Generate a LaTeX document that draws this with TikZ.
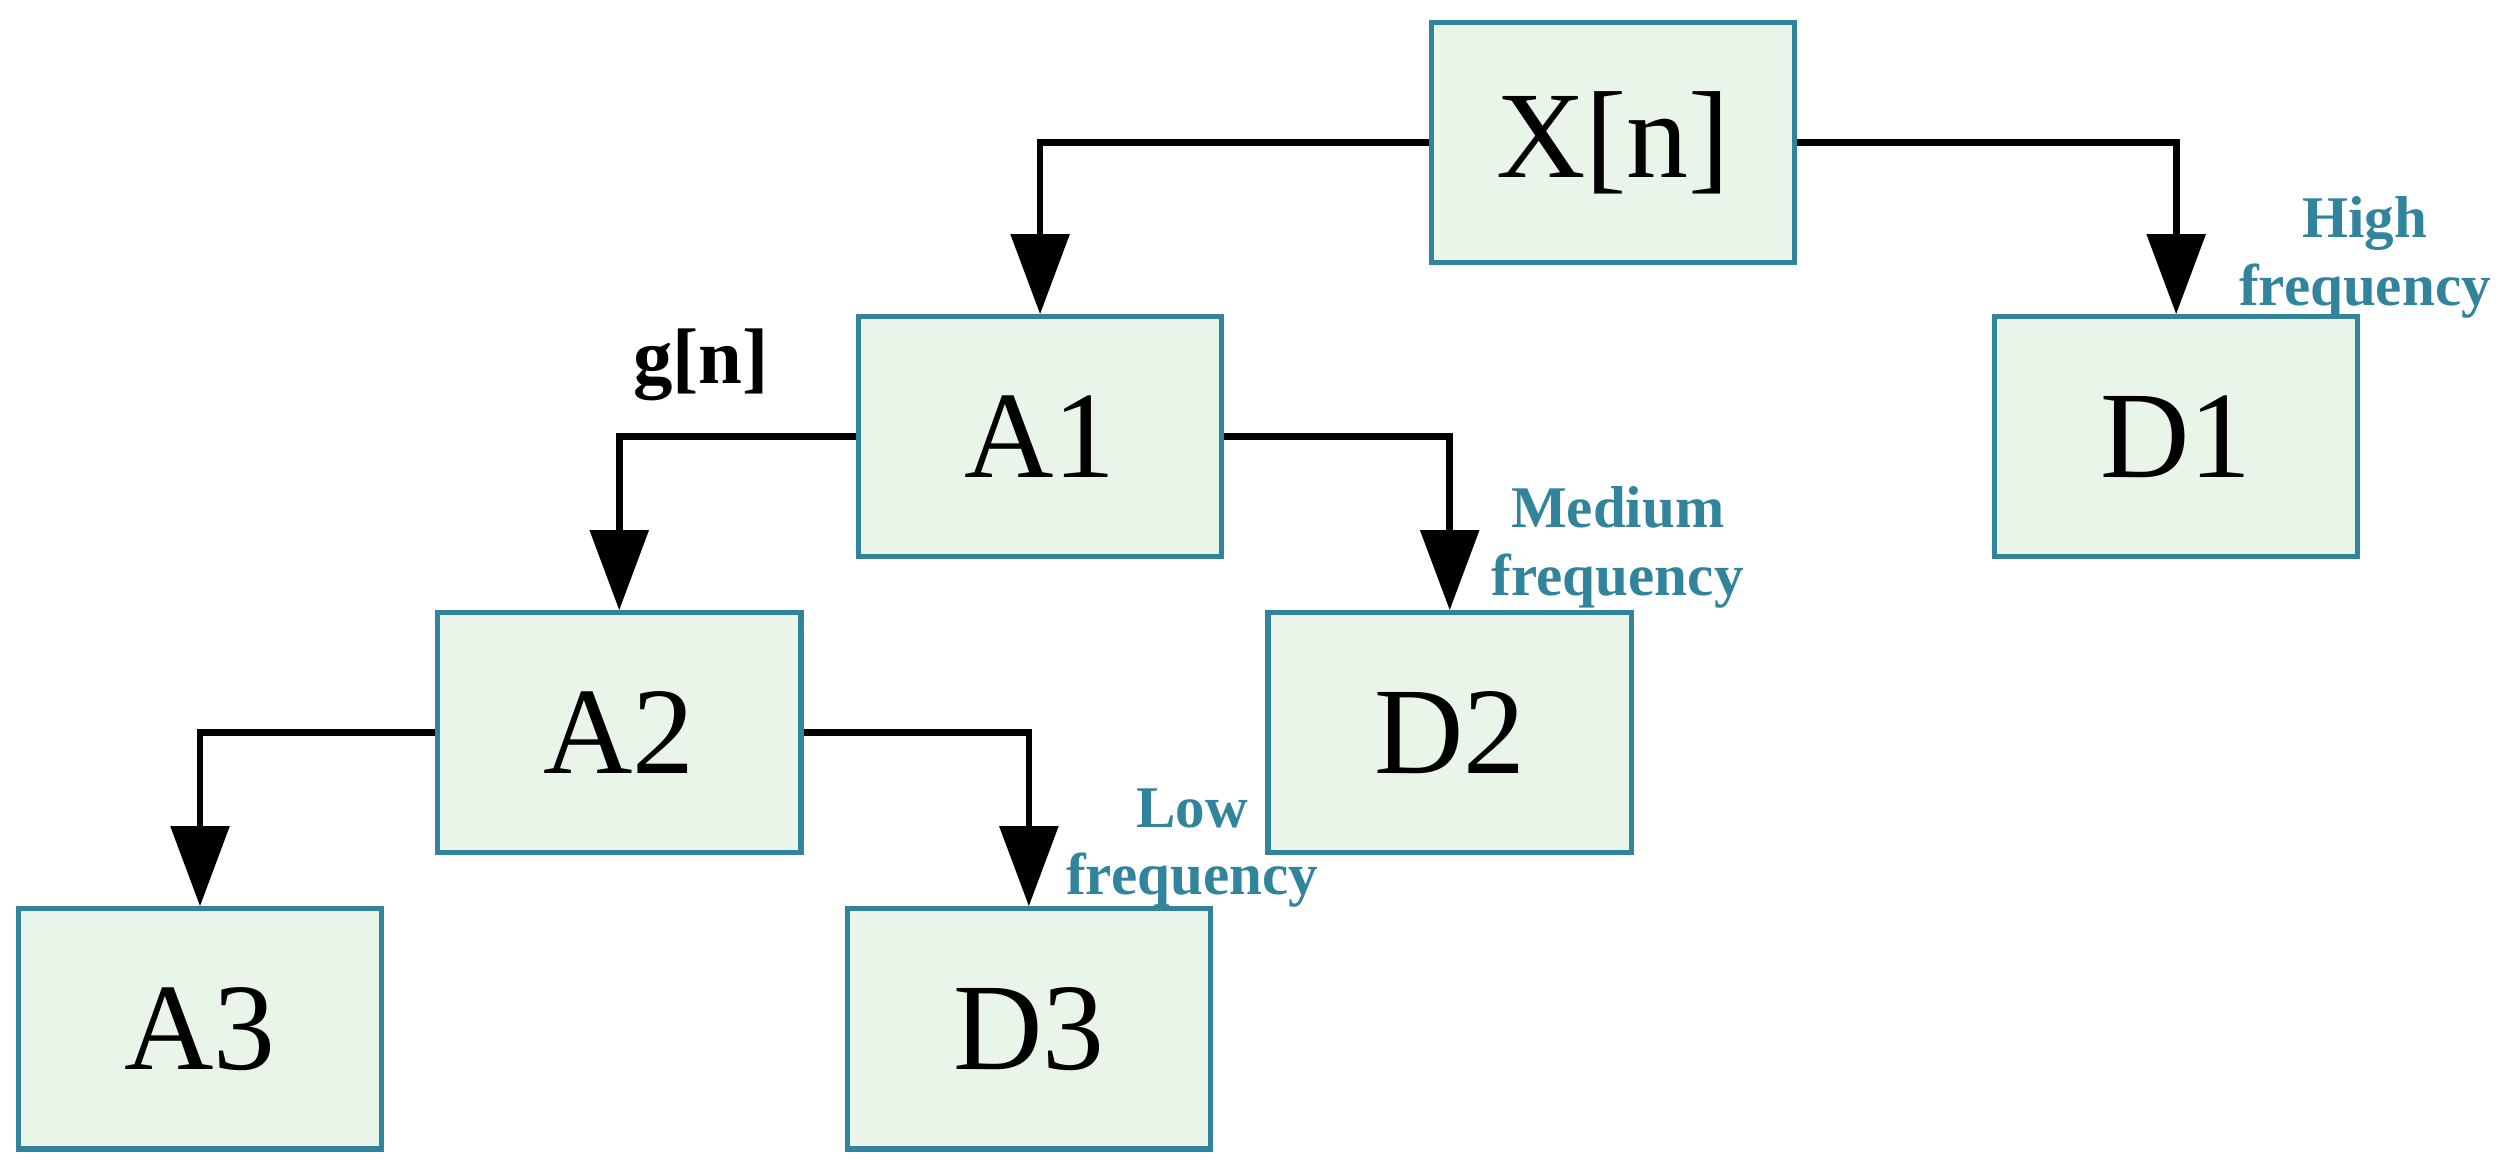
\documentclass[tikz,border=0pt]{standalone}
\usepackage{fontspec}
\setmainfont{Liberation Serif}
\usetikzlibrary{arrows.meta}
\definecolor{bfill}{HTML}{EAF5EA}
\definecolor{bdraw}{HTML}{31849B}
\begin{document}
\begin{tikzpicture}[x=0.01cm,y=-0.01cm,
  box/.style={draw=bdraw,fill=bfill,line width=0.9pt,minimum width=2.27cm,minimum height=1.5cm,font=\fontsize{22}{24}\selectfont,inner sep=0pt},
  con/.style={line width=1.2pt,-{Triangle[width=0.36cm,length=0.5cm]}},
  lab/.style={text=bdraw,font=\bfseries\fontsize{10.5}{12}\selectfont,align=center}]
\useasboundingbox (0,0) rectangle (1568,730);
\node[box] (X) at (1008,89) {X[n]};
\node[box] (A1) at (650,273) {A1};
\node[box] (D1) at (1360,273) {D1};
\node[box] (A2) at (387,458) {A2};
\node[box] (D2) at (906,458) {D2};
\node[box] (A3) at (125,643) {A3};
\node[box] (D3) at (643,643) {D3};
\draw[con] (X.west) -| (A1.north);
\draw[con] (X.east) -| (D1.north);
\draw[con] (A1.west) -| (A2.north);
\draw[con] (A1.east) -| (D2.north);
\draw[con] (A2.west) -| (A3.north);
\draw[con] (A2.east) -| (D3.north);
\node[lab] (hf) at (1478,161) {High\\frequency};
\node[lab] (mf) at (1011,342) {Medium\\frequency};
\node[lab] (lf) at (745,530) {Low\\frequency};
\node[font=\bfseries\fontsize{14}{16}\selectfont] (g) at (438,228) {g[n]};
\end{tikzpicture}
\end{document}
